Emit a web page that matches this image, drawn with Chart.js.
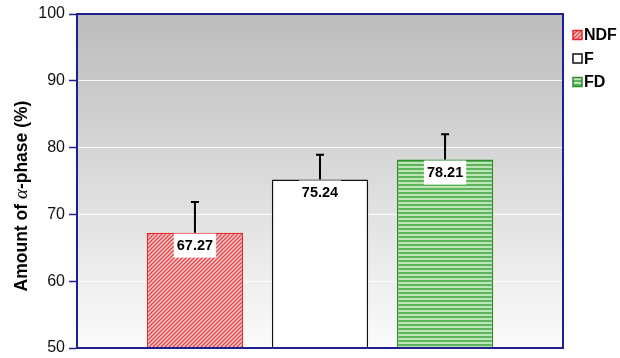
<!DOCTYPE html>
<html>
<head>
<meta charset="utf-8">
<script src="https://cdn.jsdelivr.net/npm/chart.js@4/dist/chart.umd.min.js"></script>
<style>
  body { margin: 0; background: #fff; }
  #wrap { width: 620px; height: 358px; }
</style>
</head>
<body>
<div id="wrap"><canvas id="grafico" width="620" height="358"></canvas></div>
<script>
// data
var series = ['NDF', 'F', 'FD'];
var amount = [67.27, 75.24, 78.21];
var errUp = [4.6, 3.7, 3.8];
var yTicks = [50, 60, 70, 80, 90, 100];

var AXIS = '#1f1f8f';

function hatchRed() {
    var c = document.createElement('canvas');
    c.width = 4; c.height = 4;
    var x = c.getContext('2d');
    x.fillStyle = '#f8d4d4';
    x.fillRect(0, 0, 4, 4);
    x.strokeStyle = '#e4474b';
    x.lineWidth = 1.5;
    x.beginPath();
    x.moveTo(-1, 5); x.lineTo(5, -1);
    x.moveTo(-1, 1); x.lineTo(1, -1);
    x.moveTo(3, 5); x.lineTo(5, 3);
    x.stroke();
    return x.createPattern(c, 'repeat');
}

function stripeGreen() {
    var c = document.createElement('canvas');
    c.width = 4; c.height = 4;
    var x = c.getContext('2d');
    x.fillStyle = '#bfe4b6';
    x.fillRect(0, 0, 4, 4);
    x.fillStyle = '#5cb45c';
    x.fillRect(0, 0, 4, 2);
    return x.createPattern(c, 'repeat');
}

var fills = [hatchRed(), '#ffffff', stripeGreen()];
var edges = ['#e3262b', '#111111', '#2e8b2e'];

var bgPlugin = {
    id: 'bgPlugin',
    beforeDraw: function (chart) {
        var ctx = chart.ctx, a = chart.chartArea;
        ctx.save();
        ctx.fillStyle = '#ffffff';
        ctx.fillRect(0, 0, chart.width, chart.height);
        var g = ctx.createLinearGradient(0, a.top, 0, a.bottom);
        g.addColorStop(0, '#bcbcbc');
        g.addColorStop(1, '#fbfbfb');
        ctx.fillStyle = g;
        ctx.fillRect(a.left, a.top, a.right - a.left, a.bottom - a.top);
        ctx.restore();
    }
};

var extrasPlugin = {
    id: 'extrasPlugin',
    afterDatasetsDraw: function (chart) {
        var ctx = chart.ctx, a = chart.chartArea;
        var ys = chart.scales.y;
        ctx.save();
        // frame
        ctx.strokeStyle = AXIS;
        ctx.lineWidth = 2;
        ctx.strokeRect(a.left, a.top, a.right - a.left, a.bottom - a.top);

        chart.data.datasets.forEach(function (ds, i) {
            var bar = chart.getDatasetMeta(i).data[0];
            var v = ds.data[0];
            var top = ys.getPixelForValue(v);
            var eTop = ys.getPixelForValue(v + errUp[i]);
            // error bar
            ctx.strokeStyle = '#000';
            ctx.lineWidth = 2;
            ctx.beginPath();
            ctx.moveTo(bar.x, top);
            ctx.lineTo(bar.x, eTop);
            ctx.moveTo(bar.x - 4, eTop);
            ctx.lineTo(bar.x + 4, eTop);
            ctx.stroke();
            // value label
            var txt = v.toFixed(2);
            ctx.font = 'bold 14.5px "Liberation Sans", Arial, sans-serif';
            var w = ctx.measureText(txt).width + 6;
            ctx.fillStyle = '#fff';
            ctx.fillRect(bar.x - w / 2, top + 1, w, 24);
            ctx.fillStyle = '#000';
            ctx.textAlign = 'center';
            ctx.textBaseline = 'middle';
            ctx.fillText(txt, bar.x, top + 13.5);
        });
        ctx.restore();
    },
    afterDraw: function (chart) {
        var ctx = chart.ctx;
        ctx.save();
        // legend
        chart.data.datasets.forEach(function (ds, i) {
            var cy = 35 + i * 23.5;
            ctx.fillStyle = ds.backgroundColor;
            ctx.fillRect(573, cy - 4.5, 9, 9);
            ctx.strokeStyle = ds.borderColor;
            ctx.lineWidth = 1.5;
            ctx.strokeRect(573, cy - 4.5, 9, 9);
            ctx.fillStyle = '#000';
            ctx.font = 'bold 16px "Liberation Sans", Arial, sans-serif';
            ctx.textAlign = 'left';
            ctx.textBaseline = 'middle';
            ctx.fillText(ds.label, 584, cy + 1);
        });
        // y axis title with greek alpha
        ctx.translate(22, 196);
        ctx.rotate(-Math.PI / 2);
        var p1 = 'Amount of ', p2 = '\u03b1', p3 = '-phase (%)';
        var fb = 'bold 17.5px "Liberation Sans", Arial, sans-serif';
        var fa = 'italic 19px "Liberation Serif", "Times New Roman", serif';
        ctx.font = fb; var w1 = ctx.measureText(p1).width, w3 = ctx.measureText(p3).width;
        ctx.font = fa; var w2 = ctx.measureText(p2).width;
        var x0 = -(w1 + w2 + w3) / 2;
        ctx.fillStyle = '#000';
        ctx.textBaseline = 'middle';
        ctx.textAlign = 'left';
        ctx.font = fb; ctx.fillText(p1, x0, 0);
        ctx.font = fa; ctx.fillText(p2, x0 + w1, 0);
        ctx.font = fb; ctx.fillText(p3, x0 + w1 + w2, 0);
        ctx.restore();
    }
};

var datasets = series.map(function (name, i) {
    return {
        label: name,
        data: [amount[i]],
        backgroundColor: fills[i],
        borderColor: edges[i],
        borderWidth: 1.5,
        categoryPercentage: 0.772,
        barPercentage: 0.77
    };
});

var chart = new Chart(document.getElementById('grafico'), {
    type: 'bar',
    data: { labels: [''], datasets: datasets },
    options: {
        responsive: false,
        animation: false,
        layout: { padding: { left: 0, right: 57, top: 14, bottom: 10 } },
        plugins: { legend: { display: false }, tooltip: { enabled: false } },
        scales: {
            x: { display: false },
            y: {
                min: 50,
                max: 100,
                afterBuildTicks: function (s) {
                    s.ticks = yTicks.map(function (v) { return { value: v }; });
                },
                afterFit: function (s) { s.width = 77; s.paddingTop = 0; s.paddingBottom = 0; },
                ticks: {
                    color: '#111',
                    padding: 4,
                    font: { family: '"Liberation Sans", Arial, sans-serif', size: 16, lineHeight: 1 }
                },
                grid: {
                    color: 'rgba(255,255,255,0.85)',
                    lineWidth: 1,
                    tickColor: AXIS,
                    tickLength: 8,
                    tickWidth: 1.5
                },
                border: { display: true, color: AXIS, width: 2 }
            }
        }
    },
    plugins: [bgPlugin, extrasPlugin]
});
</script>
</body>
</html>
